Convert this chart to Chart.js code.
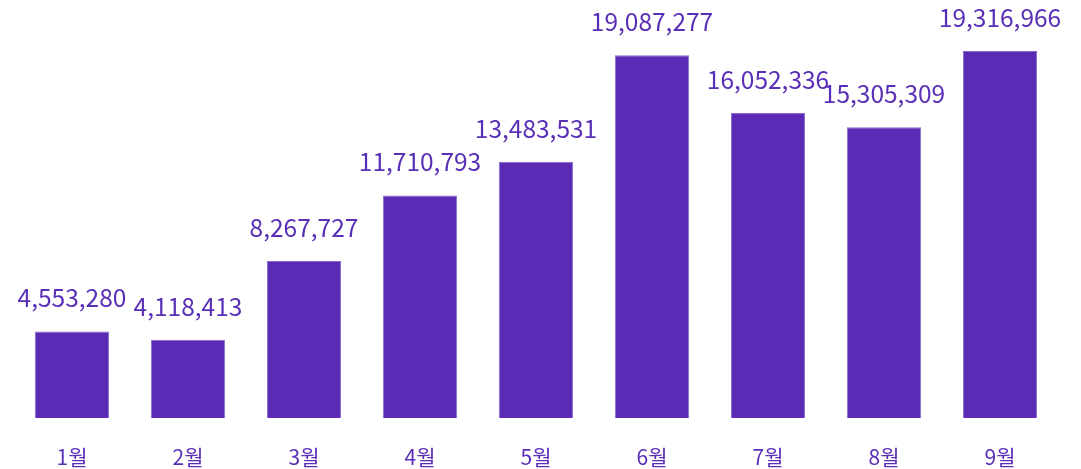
<!DOCTYPE html>
<html>
<head>
<meta charset="utf-8">
<script src="https://cdn.jsdelivr.net/npm/chart.js@4"></script>
<style>
  html, body { margin: 0; padding: 0; background: #fff; }
  #wrap { width: 1081px; height: 469px; }
</style>
</head>
<body>
<div id="wrap"><canvas id="monthChart"></canvas></div>
<script>
// 월별 데이터
const months = ['1월', '2월', '3월', '4월', '5월', '6월', '7월', '8월', '9월'];
const counts = [4553280, 4118413, 8267727, 11710793, 13483531, 19087277, 16052336, 15305309, 19316966];

const barColor = '#5b2bb5';
const textColor = '#5a2fb8';
const fontFamily = '"Noto Sans CJK KR", "Noto Sans", sans-serif';

// 막대 위에 숫자 표시
const valueLabels = {
  id: 'valueLabels',
  afterDatasetsDraw(chart) {
    const ctx = chart.ctx;
    const meta = chart.getDatasetMeta(0);
    ctx.save();
    ctx.font = '24.5px ' + fontFamily;
    ctx.fillStyle = textColor;
    ctx.textAlign = 'center';
    ctx.textBaseline = 'alphabetic';
    meta.data.forEach((bar, i) => {
      ctx.fillText(counts[i].toLocaleString('en-US'), bar.x, bar.y - 24);
    });
    ctx.restore();
  }
};

const ctx = document.getElementById('monthChart').getContext('2d');
new Chart(ctx, {
  type: 'bar',
  data: {
    labels: months,
    datasets: [{
      data: counts,
      backgroundColor: barColor,
      borderColor: '#8a6ad0',
      borderWidth: 1,
      barPercentage: 0.64,
      categoryPercentage: 1.0
    }]
  },
  options: {
    responsive: true,
    maintainAspectRatio: false,
    animation: false,
    layout: {
      padding: { left: 14, right: 23, top: 38, bottom: 0 }
    },
    plugins: {
      legend: { display: false },
      tooltip: { enabled: false }
    },
    scales: {
      x: {
        grid: { display: false },
        border: { display: false },
        afterFit(scale) { scale.height = 51; },
        ticks: {
          color: textColor,
          font: { family: fontFamily, size: 21 },
          padding: 18
        }
      },
      y: {
        display: false,
        min: 0,
        max: 20000000
      }
    }
  },
  plugins: [valueLabels]
});
</script>
</body>
</html>
